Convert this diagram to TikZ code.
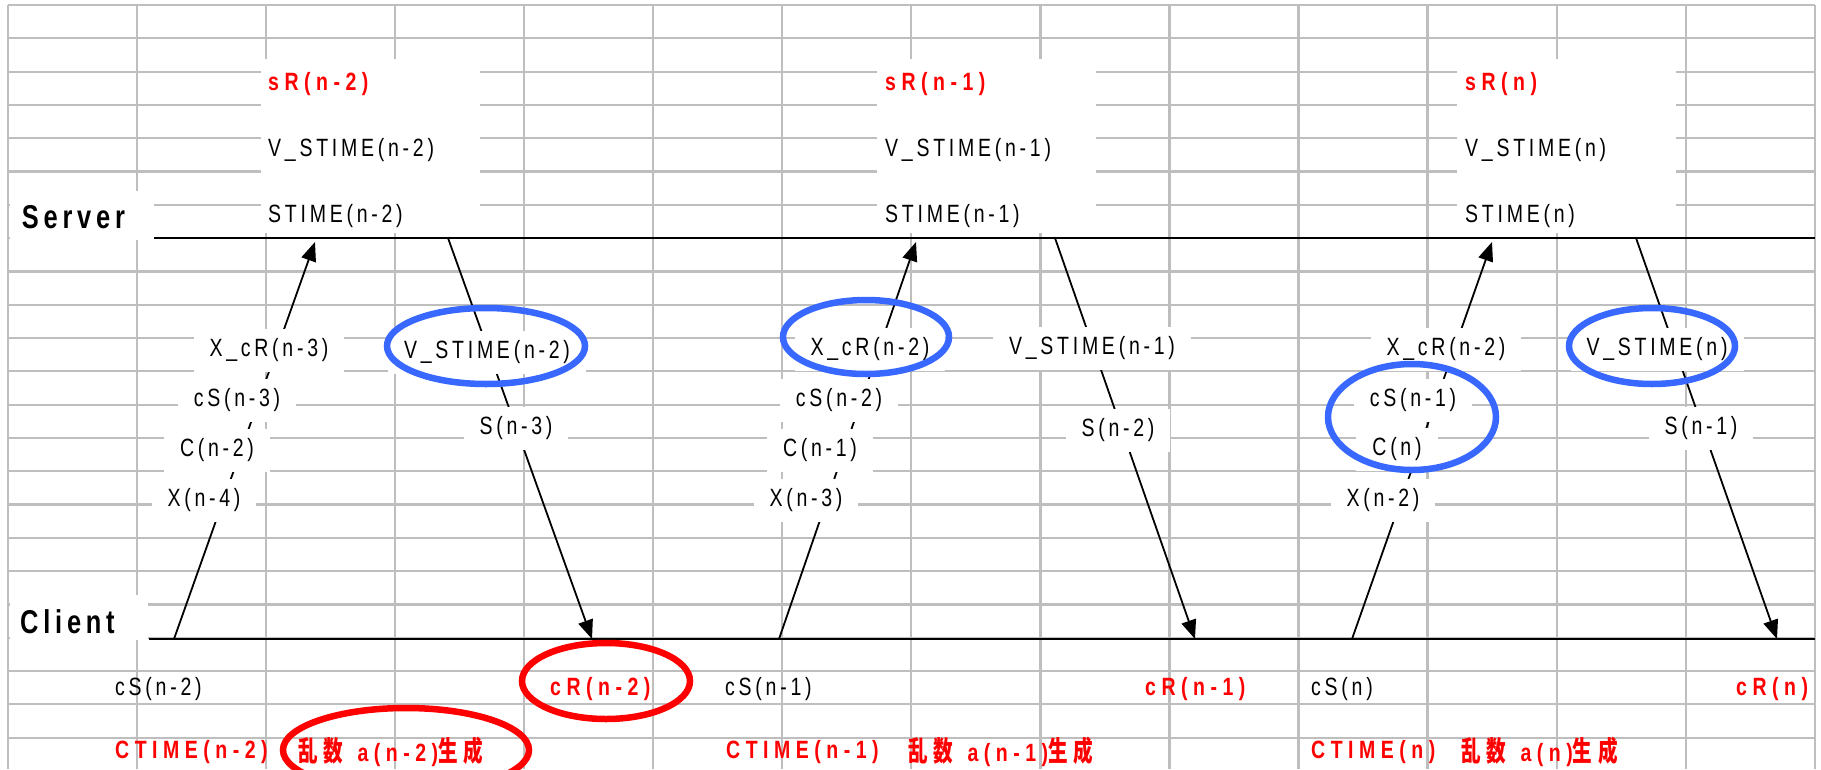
\documentclass[tikz,border=0pt]{standalone}
\usepackage{fontspec}
\setmainfont{Liberation Sans}
\newfontfamily\lblfam[FakeStretch=0.78,LetterSpace=15]{Liberation Sans}
\newfontfamily\boldfam[FakeStretch=0.78,LetterSpace=22]{Liberation Sans}
\newfontfamily\titlefam[FakeStretch=0.77,LetterSpace=14.5]{Liberation Sans}
\newfontfamily\cjkfam[FakeStretch=0.7,LetterSpace=22]{Noto Sans CJK JP}
\usetikzlibrary{arrows.meta,backgrounds}
\definecolor{gridgray}{RGB}{190,190,190}
\definecolor{ringblue}{RGB}{56,104,255}
\definecolor{ringred}{RGB}{255,0,0}
\newcommand\fLab{\lblfam\fontsize{25}{29}\selectfont}
\newcommand\fBold{\boldfam\bfseries\fontsize{25}{29}\selectfont}
\newcommand\fTitle{\titlefam\bfseries\fontsize{33}{37}\selectfont}
\newcommand\fCjk{\cjkfam\bfseries\fontsize{28}{32}\selectfont}
\begin{document}
\begin{tikzpicture}[x=1pt,y=-1pt,
  gridline/.style={draw=gridgray,line width=2.2pt},
  axisline/.style={draw=black,line width=2.2pt},
  msg/.style={draw=black,line width=1.8pt,-{Triangle[length=19pt,width=15pt]}},
  lab/.style={font=\fLab,fill=white,inner xsep=16pt,inner ysep=0pt,minimum height=43pt},
  txt/.style={font=\fLab,inner sep=0pt,anchor=west},
  redtxt/.style={font=\fBold,text=ringred,inner sep=0pt,anchor=west},
  title/.style={font=\fTitle,inner sep=0pt,anchor=west},
  ring/.style={line width=6.5pt}]
\useasboundingbox (0,0) rectangle (1821,769);

% ---------- coordinates of lines and messages
\coordinate (srvL) at (154,238);
\coordinate (srvR) at (1815,238);
\coordinate (cliL) at (149,639);
\coordinate (cliR) at (1815,639);
\coordinate (u1c) at (174,639);  \coordinate (u1s) at (315,242);
\coordinate (d1s) at (448,238);  \coordinate (d1c) at (592,639);
\coordinate (u2c) at (779,639);  \coordinate (u2s) at (916,242);
\coordinate (d2s) at (1055,238); \coordinate (d2c) at (1195,639);
\coordinate (u3c) at (1352,639); \coordinate (u3s) at (1492,242);
\coordinate (d3s) at (1636,238); \coordinate (d3c) at (1777,639);

% ---------- titles
\node[title] (server) at (21.7,217) {Server};
\node[title] (client) at (20,622) {Client};

% ---------- server blocks
\node[redtxt] (sRa) at (268,84) {sR(n-2)};
\node[txt] (vsa) at (268,150) {V\_STIME(n-2)};
\node[txt] (sta) at (268,216) {STIME(n-2)};
\node[redtxt] (sRb) at (885,84) {sR(n-1)};
\node[txt] (vsb) at (885,150) {V\_STIME(n-1)};
\node[txt] (stb) at (885,216) {STIME(n-1)};
\node[redtxt] (sRc) at (1465,84) {sR(n)};
\node[txt] (vsc) at (1465,150) {V\_STIME(n)};
\node[txt] (stc) at (1465,216) {STIME(n)};

% ---------- labels on messages
\node[lab] (xcra) at (269,350) {X\_cR(n-3)};
\node[lab] (csa) at (237,400) {cS(n-3)};
\node[lab] (ca) at (217,450) {C(n-2)};
\node[lab] (xa) at (204,500) {X(n-4)};
\node[lab] (vma) at (487,352) {V\_STIME(n-2)};
\node[lab] (sa) at (516,428) {S(n-3)};
\node[lab] (xcrb) at (870,349) {X\_cR(n-2)};
\node[lab] (csb) at (839,400) {cS(n-2)};
\node[lab] (cb) at (820,450) {C(n-1)};
\node[lab] (xb) at (806,500) {X(n-3)};
\node[lab] (vmb) at (1092,348) {V\_STIME(n-1)};
\node[lab] (sb) at (1118,430) {S(n-2)};
\node[lab] (xcrc) at (1446,349) {X\_cR(n-2)};
\node[lab] (csc) at (1413,400) {cS(n-1)};
\node[lab] (cc) at (1397,449) {C(n)};
\node[lab] (xc) at (1383,500) {X(n-2)};
\node[lab] (vmc) at (1657,349) {V\_STIME(n)};
\node[lab] (sc) at (1701,428) {S(n-1)};

% ---------- client side texts
\node[txt] (cSa) at (115,689) {cS(n-2)};
\node[redtxt] (cRa) at (550,689) {cR(n-2)};
\node[redtxt] (cta) at (115,752) {CTIME(n-2)};
\node[redtxt] (rna) at (298,752) {{\fCjk 乱数}\hspace{14pt}a(n-2){\fCjk 生成}};
\node[txt] (cSb) at (725,689) {cS(n-1)};
\node[redtxt] (cRb) at (1145,689) {cR(n-1)};
\node[redtxt] (ctb) at (726,752) {CTIME(n-1)};
\node[redtxt] (rnb) at (908,752) {{\fCjk 乱数}\hspace{14pt}a(n-1){\fCjk 生成}};
\node[txt] (cSc) at (1311,689) {cS(n)};
\node[redtxt] (cRc) at (1736,689) {cR(n)};
\node[redtxt] (ctc) at (1311,752) {CTIME(n)};
\node[redtxt] (rnc) at (1461,752) {{\fCjk 乱数}\hspace{14pt}a(n){\fCjk 生成}};

% ---------- highlight rings
\draw[ring,ringblue] (486,346) ellipse [x radius=99pt,y radius=38pt];
\draw[ring,ringblue] (866,337) ellipse [x radius=83pt,y radius=37pt];
\draw[ring,ringblue] (1412,417) ellipse [x radius=84pt,y radius=53pt];
\draw[ring,ringblue] (1652,346) ellipse [x radius=83pt,y radius=38pt];
\draw[ring,ringred] (606,681) ellipse [x radius=84pt,y radius=38pt];
\draw[ring,ringred] (406,750) ellipse [x radius=123pt,y radius=42pt];

\begin{pgfonlayer}{background}
  \foreach \k in {0,...,22} \draw[gridline] (8,{5+33.3*\k}) -- (1815,{5+33.3*\k});
  \foreach \j in {0,...,14} \draw[gridline] ({8+129.05*\j},5) -- ({8+129.05*\j},769);
  \fill[white] (261,59) rectangle (480,233);
  \fill[white] (877,59) rectangle (1096,233);
  \fill[white] (1457,59) rectangle (1676,233);
  \fill[white] (10,191) rectangle (154,240);
  \fill[white] (10,595) rectangle (148,640);
  \draw[axisline] (srvL) -- (srvR);
  \draw[axisline] (cliL) -- (cliR);
  \draw[msg] (u1c) -- (u1s);
  \draw[msg] (d1s) -- (d1c);
  \draw[msg] (u2c) -- (u2s);
  \draw[msg] (d2s) -- (d2c);
  \draw[msg] (u3c) -- (u3s);
  \draw[msg] (d3s) -- (d3c);
\end{pgfonlayer}
\end{tikzpicture}
\end{document}
